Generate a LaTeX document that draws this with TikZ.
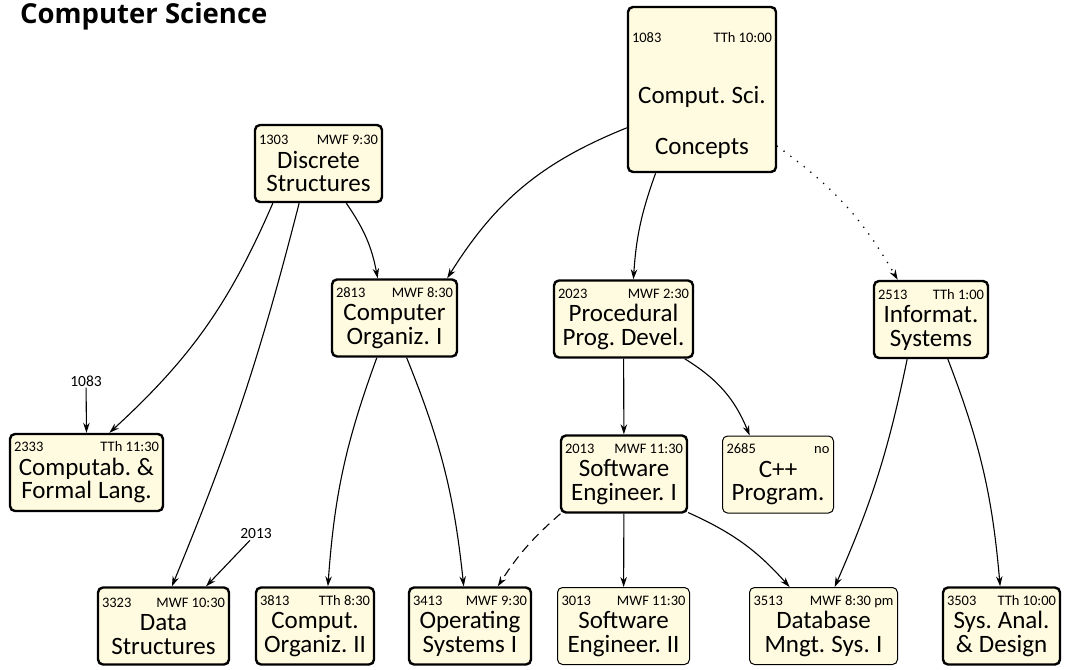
\documentclass[tikz,border=0pt]{standalone}
\usepackage{fontspec}
\setmainfont{Carlito}
\newfontfamily\titlefont{Open Sans}
\usetikzlibrary{arrows.meta}
\definecolor{cream}{RGB}{255,251,224}
\newcommand{\hd}[2]{\hbox to \hsize{\fontsize{14.5}{15}\selectfont #1\hfill #2}}
\newcommand{\crs}[4]{\spaceskip=0pt\relax\hd{#1}{#2}\\#3\\#4}

\begin{document}
\frenchspacing
\begin{tikzpicture}[x=1pt,y=-1pt,
box/.style={draw, fill=cream, rounded corners=5pt, line width=2.4pt, inner xsep=4pt, inner ysep=1pt, minimum height=77pt, align=center, text width=#1, font=\fontsize{25}{23.5}\selectfont},
lite/.style={line width=1pt},
pre/.style={-{Stealth[length=10pt,width=6.5pt]}, line width=1.1pt},
lbl/.style={font=\fontsize{15.5}{16}\selectfont, inner sep=1pt}]
\useasboundingbox (0,0) rectangle (1073,669);
\node[anchor=base west, inner sep=0pt, font=\titlefont\bfseries\fontsize{27.5}{30}\selectfont] (ttl) at (20,23.5) {Computer Science};
% first row
\node[box=140, minimum height=165pt] (c1083) at (702,89.5) {\spaceskip=0pt\relax\hd{\rule{0pt}{23pt}1083}{TTh 10:00}\\[37pt]Comput. Sci.\\[28pt]Concepts};
\node[box=119] (c1303) at (318.5,163.5) {\crs{1303}{MWF 9:30}{Discrete}{Structures}};
% second row
\node[box=117] (c2813) at (394.5,318) {\crs{2813}{MWF 8:30}{Computer}{Organiz. I}};
\node[box=131] (c2023) at (623.5,319) {\crs{2023}{MWF 2:30}{Procedural}{Prog. Devel.}};
\node[box=106] (c2513) at (931,319.5) {\crs{2513}{TTh 1:00}{Informat.}{Systems}};
% third row
\node[box=145] (c2333) at (86.5,472.5) {\crs{2333}{TTh 11:30}{Computab. \&}{Formal Lang.}};
\node[box=118] (c2013) at (624,474) {\crs{2013}{MWF 11:30}{Software}{Engineer. I}};
\node[box=103, lite] (c2685) at (778,474.5) {\crs{2685}{no}{C++}{Program.}};
% bottom row
\node[box=123] (c3323) at (163.5,626) {\crs{3323}{MWF 10:30}{Data}{Structures}};
\node[box=110] (c3813) at (315,626) {\crs{3813}{TTh 8:30}{Comput.}{Organiz. II}};
\node[box=114] (c3413) at (470,626) {\crs{3413}{MWF 9:30}{Operating}{Systems I}};
\node[box=124, lite] (c3013) at (623.5,626) {\crs{3013}{MWF 11:30}{Software}{Engineer. II}};
\node[box=140, lite] (c3513) at (823.5,626) {\crs{3513}{MWF 8:30 pm}{Database}{Mngt. Sys. I}};
\node[box=109] (c3503) at (1001.5,626) {\crs{3503}{TTh 10:00}{Sys. Anal.}{\& Design}};
% outside prerequisites
\node[lbl] (r1083) at (86,381) {1083};
\node[lbl] (r2013) at (256,534) {2013};

\draw[pre] (c1083.207) to[bend right=18] (c2813.37);
\draw[pre] (c1083.241) to[bend right=8] (c2023.76);
\draw[pre, line width=1.8pt, line cap=round, dash pattern=on 0pt off 8.5pt] (c1083.323) to[bend left=12] (c2513.130);
\draw[pre] (c1303.305) to[bend left=12] (c2813.113);
\draw[pre] (c1303.221) to[bend left=12] (c2333.60);
\draw[pre] (c1303.244) to[bend left=4] (c3323.78);
\draw[pre] (c2813.246) to[bend right=8] (c3813.72);
\draw[pre] (c2813.287) to[bend left=8] (c3413.99);
\draw[pre] (c2023) -- (c2013);
\draw[pre] (c2023.327) to[bend left=18] (c2685.126);
\draw[pre, dash pattern=on 9pt off 6pt] (c2013.212) to[bend right=8] (c3413.55);
\draw[pre] (c2013) -- (c3013);
\draw[pre] (c2013.329) to[bend left=12] (c3513.131);
\draw[pre] (c2513.239) to[bend left=6] (c3513.74);
\draw[pre] (c2513.293) to[bend left=8] (c3503.92);
\draw[pre] (r1083) -- (c2333.north);
\draw[pre] (r2013) -- (c3323.43);
\end{tikzpicture}
\end{document}
